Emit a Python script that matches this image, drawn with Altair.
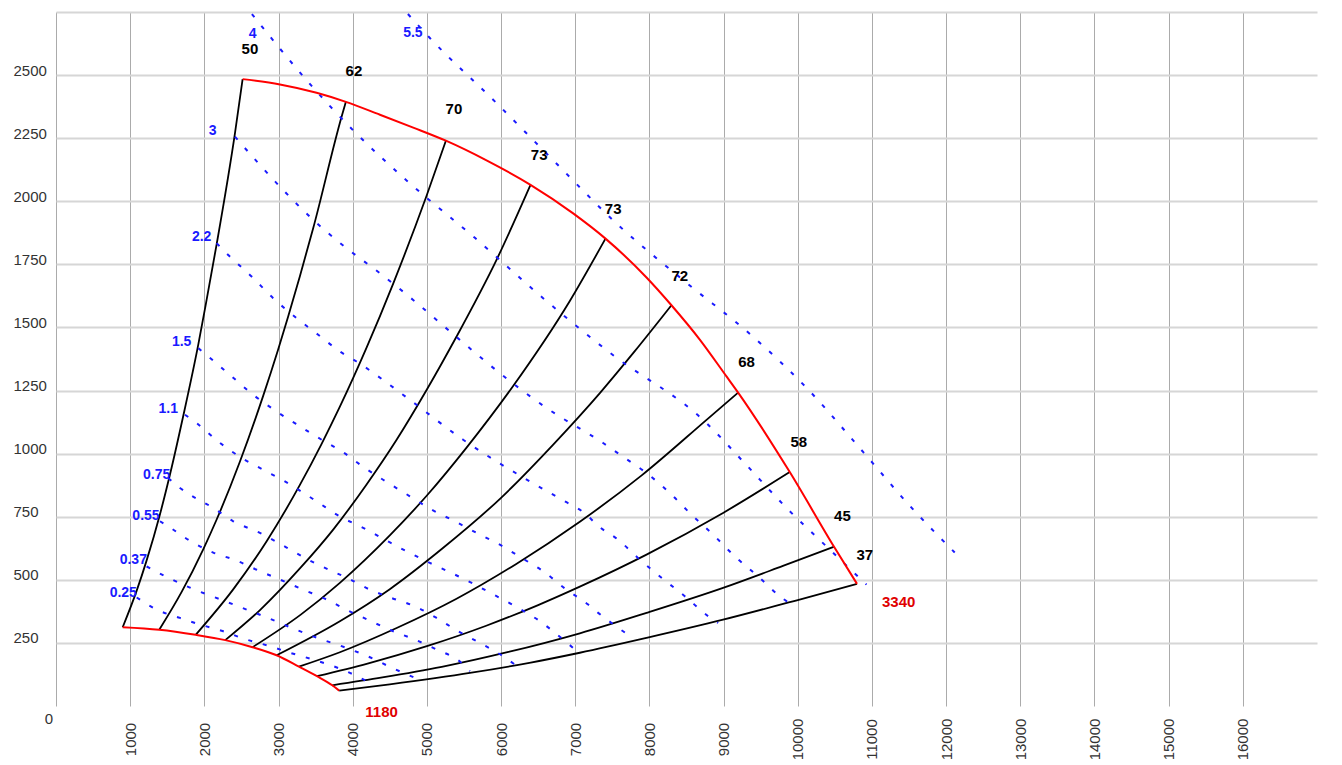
import altair as alt
import pandas as pd

# ---------------- efficiency curves (air flow Q, pressure p) ----------------
EFF_NAMES = ["50", "62", "70", "73a", "73b", "72", "68", "58", "45", "37"]

EFF_50_Q = [899, 1088, 1222, 1402, 1559, 1716, 1918, 2031, 2166, 2412, 2516]
EFF_50_P = [312, 457, 577, 760, 945, 1150, 1432, 1610, 1830, 2268, 2484]

EFF_62_Q = [1392, 1694, 1985, 2166, 2480, 2794, 2996, 3131, 3288, 3468, 3850, 3908]
EFF_62_P = [302, 452, 621, 739, 969, 1230, 1414, 1544, 1703, 1894, 2335, 2394]

EFF_70_Q = [1883, 2389, 2840, 3288, 3581, 3827, 4187, 4546, 4996, 5256]
EFF_70_P = [282, 462, 653, 876, 1039, 1186, 1420, 1674, 2022, 2240]

EFF_73A_Q = [2282, 2750, 3288, 3737, 4187, 4592, 4996, 5400, 5939, 6397]
EFF_73A_P = [261, 380, 545, 699, 878, 1055, 1252, 1464, 1768, 2065]

EFF_73B_Q = [2650, 3300, 3827, 4500, 5000, 5535, 6163, 6927, 7408]
EFF_73B_P = [233, 362, 488, 676, 834, 1024, 1268, 1605, 1852]

EFF_72_Q = [2974, 3827, 4500, 5200, 6000, 6700, 7332, 7800, 8297]
EFF_72_P = [201, 336, 463, 622, 825, 1035, 1240, 1405, 1588]

EFF_68_Q = [3275, 3827, 4600, 5400, 6200, 7062, 7900, 8770, 9196]
EFF_68_P = [156, 213, 310, 425, 562, 730, 915, 1134, 1242]

EFF_58_Q = [3518, 4200, 5000, 5800, 6500, 7062, 7961, 8993, 9892]
EFF_58_P = [118, 168, 237, 318, 400, 473, 600, 765, 927]

EFF_45_Q = [3724, 4400, 5200, 6100, 7062, 7961, 8993, 9800, 10489]
EFF_45_P = [82, 113, 155, 214, 288, 369, 468, 555, 631]

EFF_37_Q = [3818, 4500, 5602, 6400, 7062, 7961, 8993, 10000, 10799]
EFF_37_P = [61, 86, 132, 172, 211, 270, 342, 420, 484]

EFF_LABELS = ["50", "62", "70", "73", "73", "72", "68", "58", "45", "37"]
EFF_LABEL_Q = [2614, 4016, 5364, 6514, 7511, 8410, 9309, 10013, 10602, 10903]
EFF_LABEL_P = [2602, 2516, 2364, 2183, 1968, 1704, 1365, 1048, 754, 600]

# ---------------- speed curves (rpm) ----------------
SPEED_NAMES = ["1180", "3340"]
N_1180_Q = [899, 1393, 1883, 2282, 2650, 2974, 3275, 3518, 3724, 3818]
N_1180_P = [312, 302, 282, 261, 233, 201, 156, 118, 82, 61]

N_3340_Q = [2516, 3019, 3513, 3908, 4367, 4816, 5256, 5804, 6397, 6972, 7408,
            7961, 8297, 8679, 9039, 9196, 9892, 10489, 10799]
N_3340_P = [2484, 2463, 2430, 2394, 2343, 2292, 2240, 2162, 2065, 1952, 1852,
            1698, 1588, 1452, 1306, 1242, 927, 631, 484]

SPEED_LABEL_Q = [4389, 11361]
SPEED_LABEL_P = [-25, 411]

# ---------------- power lines (kW) ----------------
POWER_NAMES = ["0.25", "0.37", "0.55", "0.75", "1.1", "1.5", "2.2", "3", "4", "5.5"]

PW_025_Q = [1088, 1357, 1671, 1941, 2255, 2570, 2884, 3154, 3468, 3737, 3918, 4232]
PW_025_P = [430, 382, 349, 323, 296, 263, 237, 211, 184, 158, 137, 92]

PW_037_Q = [1222, 1536, 1806, 2255, 2570, 2884, 3198, 3513, 3918, 4209, 4524, 4838]
PW_037_P = [553, 505, 469, 418, 382, 346, 307, 271, 230, 196, 152, 112]

PW_055_Q = [1402, 1537, 1850, 2120, 2435, 2705, 3019, 3333, 3648, 3939, 4232,
            4524, 4838, 5131, 5445, 5580]
PW_055_P = [732, 707, 647, 608, 576, 540, 501, 461, 422, 378, 338,
            299, 263, 224, 176, 138]

PW_075_Q = [1513, 1671, 1806, 2120, 2389, 2749, 3109, 3400, 3737, 3918, 4232,
            4524, 4838, 5131, 5422, 5714, 6028, 6186]
PW_075_P = [903, 864, 837, 785, 732, 686, 628, 580, 532, 509, 461,
            428, 395, 349, 296, 250, 197, 164]

PW_11_Q = [1739, 1896, 2187, 2503, 2794, 3086, 3198, 3513, 3827, 4141, 4434,
           4726, 5040, 5333, 5647, 5939, 6230, 6523, 6702, 6995]
PW_11_P = [1154, 1121, 1048, 983, 936, 890, 870, 811, 751, 706, 659,
           613, 567, 527, 481, 435, 389, 336, 296, 224]

PW_15_Q = [1918, 2053, 2368, 2659, 2974, 3288, 3581, 3872, 4164, 4478, 4771,
           5063, 5377, 5670, 5984, 6276, 6567, 6882, 7174, 7309, 7489, 7645, 7780]
PW_15_P = [1418, 1385, 1306, 1233, 1167, 1108, 1055, 1005, 943, 884, 831,
           778, 732, 686, 639, 587, 534, 461, 402, 369, 329, 296, 270]

PW_22_Q = [2166, 2322, 2637, 2928, 3244, 3535, 3827, 4052, 4771, 5489, 5939,
           6388, 6815, 7152, 7287, 7578, 7871, 8163, 8477, 8791, 8926]
PW_22_P = [1834, 1787, 1702, 1616, 1537, 1471, 1405, 1365, 1213, 1055, 969,
           890, 818, 758, 719, 659, 580, 508, 435, 356, 329]

PW_3_Q = [2412, 3019, 3468, 3918, 4367, 4815, 5400, 5984, 6613, 7376, 7668,
          7961, 8275, 8567, 8859, 9151, 9465, 9757, 9915]
PW_3_P = [2256, 2058, 1926, 1814, 1715, 1609, 1462, 1319, 1181, 1042, 983,
          923, 844, 758, 679, 593, 514, 435, 402]

PW_4_Q = [2641, 3396, 4003, 4744, 5647, 6563, 7466, 8770, 9263, 9848, 10431, 10926]
PW_4_P = [2742, 2474, 2282, 2078, 1855, 1617, 1400, 1121, 969, 785, 620, 481]

PW_55_Q = [4744, 5040, 5939, 6698, 7601, 8500, 9394, 10143, 10889, 11496, 12116]
PW_55_P = [2742, 2647, 2389, 2164, 1900, 1677, 1464, 1253, 1004, 798, 608]

POWER_LABEL_Q = [907, 1042, 1213, 1357, 1513, 1694, 1964, 2112, 2651, 4811]
POWER_LABEL_P = [448, 580, 751, 917, 1177, 1444, 1858, 2280, 2662, 2666]

# ---------------- axes ----------------
X_TICKS = list(range(0, 17000, 1000))
Y_TICKS = list(range(250, 2751, 250))
X_DOMAIN = [0, 17000]
Y_DOMAIN = [0, 2750]


def frame(names, qs, ps):
    rows = []
    for name, ql, pl in zip(names, qs, ps):
        for i, (q, p) in enumerate(zip(ql, pl)):
            rows.append({"series": name, "i": i, "q": q, "p": p})
    return pd.DataFrame(rows)


eff_df = frame(EFF_NAMES,
               [EFF_50_Q, EFF_62_Q, EFF_70_Q, EFF_73A_Q, EFF_73B_Q, EFF_72_Q,
                EFF_68_Q, EFF_58_Q, EFF_45_Q, EFF_37_Q],
               [EFF_50_P, EFF_62_P, EFF_70_P, EFF_73A_P, EFF_73B_P, EFF_72_P,
                EFF_68_P, EFF_58_P, EFF_45_P, EFF_37_P])
speed_df = frame(SPEED_NAMES, [N_1180_Q, N_3340_Q], [N_1180_P, N_3340_P])
power_df = frame(POWER_NAMES,
                 [PW_025_Q, PW_037_Q, PW_055_Q, PW_075_Q, PW_11_Q, PW_15_Q,
                  PW_22_Q, PW_3_Q, PW_4_Q, PW_55_Q],
                 [PW_025_P, PW_037_P, PW_055_P, PW_075_P, PW_11_P, PW_15_P,
                  PW_22_P, PW_3_P, PW_4_P, PW_55_P])

eff_lab = pd.DataFrame({"q": EFF_LABEL_Q, "p": EFF_LABEL_P, "t": EFF_LABELS})
pow_lab = pd.DataFrame({"q": POWER_LABEL_Q, "p": POWER_LABEL_P, "t": POWER_NAMES})
spd_lab = pd.DataFrame({"q": SPEED_LABEL_Q, "p": SPEED_LABEL_P, "t": SPEED_NAMES})
origin_lab = pd.DataFrame({"q": [-94], "p": [-53], "t": ["0"]})

FONT = "Liberation Sans"

x_axis = alt.Axis(values=X_TICKS, format="d",
                  labelExpr="datum.value == 0 ? '' : datum.label",
                  labelAngle=270, labelAlign="center", labelBaseline="middle",
                  labelPadding=33, ticks=False, tickSize=0, domain=False,
                  grid=True, gridColor="#ababab", gridWidth=1,
                  labelFont=FONT, labelFontSize=15, labelColor="#333333",
                  labelOverlap=False, title=None)
y_axis = alt.Axis(values=Y_TICKS, format="d",
                  labelExpr="datum.value == 2750 ? '' : datum.label",
                  labelAlign="left", labelBaseline="alphabetic",
                  labelPadding=43, ticks=False, tickSize=0, domain=False,
                  grid=True, gridColor="#d6d6d6", gridWidth=2,
                  labelFont=FONT, labelFontSize=15, labelColor="#333333",
                  labelOverlap=False, title=None)

xs = alt.Scale(domain=X_DOMAIN, nice=False, zero=False)
ys = alt.Scale(domain=Y_DOMAIN, nice=False, zero=False)

X_ENC = alt.X("q:Q", scale=xs)
Y_ENC = alt.Y("p:Q", scale=ys)

eff_lines = alt.Chart(eff_df).mark_line(
    color="black", strokeWidth=1.8, interpolate="monotone").encode(
    x=alt.X("q:Q", scale=xs, axis=x_axis), y=alt.Y("p:Q", scale=ys, axis=y_axis),
    detail="series:N", order="i:Q")

power_lines = alt.Chart(power_df).mark_line(
    color="#1a1aff", strokeWidth=2, strokeDash=[4, 11], interpolate="monotone").encode(
    x=X_ENC, y=Y_ENC, detail="series:N", order="i:Q")

speed_lines = alt.Chart(speed_df).mark_line(
    color="#ff0000", strokeWidth=2, interpolate="monotone").encode(
    x=X_ENC, y=Y_ENC, detail="series:N", order="i:Q")

eff_text = alt.Chart(eff_lab).mark_text(
    font=FONT, fontSize=15, fontWeight="bold", color="black",
    align="center", baseline="middle").encode(x=X_ENC, y=Y_ENC, text="t:N")

pow_text = alt.Chart(pow_lab).mark_text(
    font=FONT, fontSize=14, fontWeight="bold", color="#1a1aff",
    align="center", baseline="middle").encode(x=X_ENC, y=Y_ENC, text="t:N")

spd_text = alt.Chart(spd_lab).mark_text(
    font=FONT, fontSize=15, fontWeight="bold", color="#e00000",
    align="center", baseline="middle").encode(x=X_ENC, y=Y_ENC, text="t:N")

origin_text = alt.Chart(origin_lab).mark_text(
    font=FONT, fontSize=15, color="#333333",
    align="center", baseline="middle").encode(x=X_ENC, y=Y_ENC, text="t:N")

chart = alt.layer(
    eff_lines, power_lines, speed_lines, eff_text, pow_text, spd_text, origin_text
).properties(
    width=1261, height=694,
    autosize=alt.AutoSizeParams(type="none"),
    padding={"left": 48, "top": 4, "right": 10, "bottom": 60},
    background="white",
).configure_view(stroke=None)

chart.save("out.html", embed_options={"renderer": "svg", "actions": False})
